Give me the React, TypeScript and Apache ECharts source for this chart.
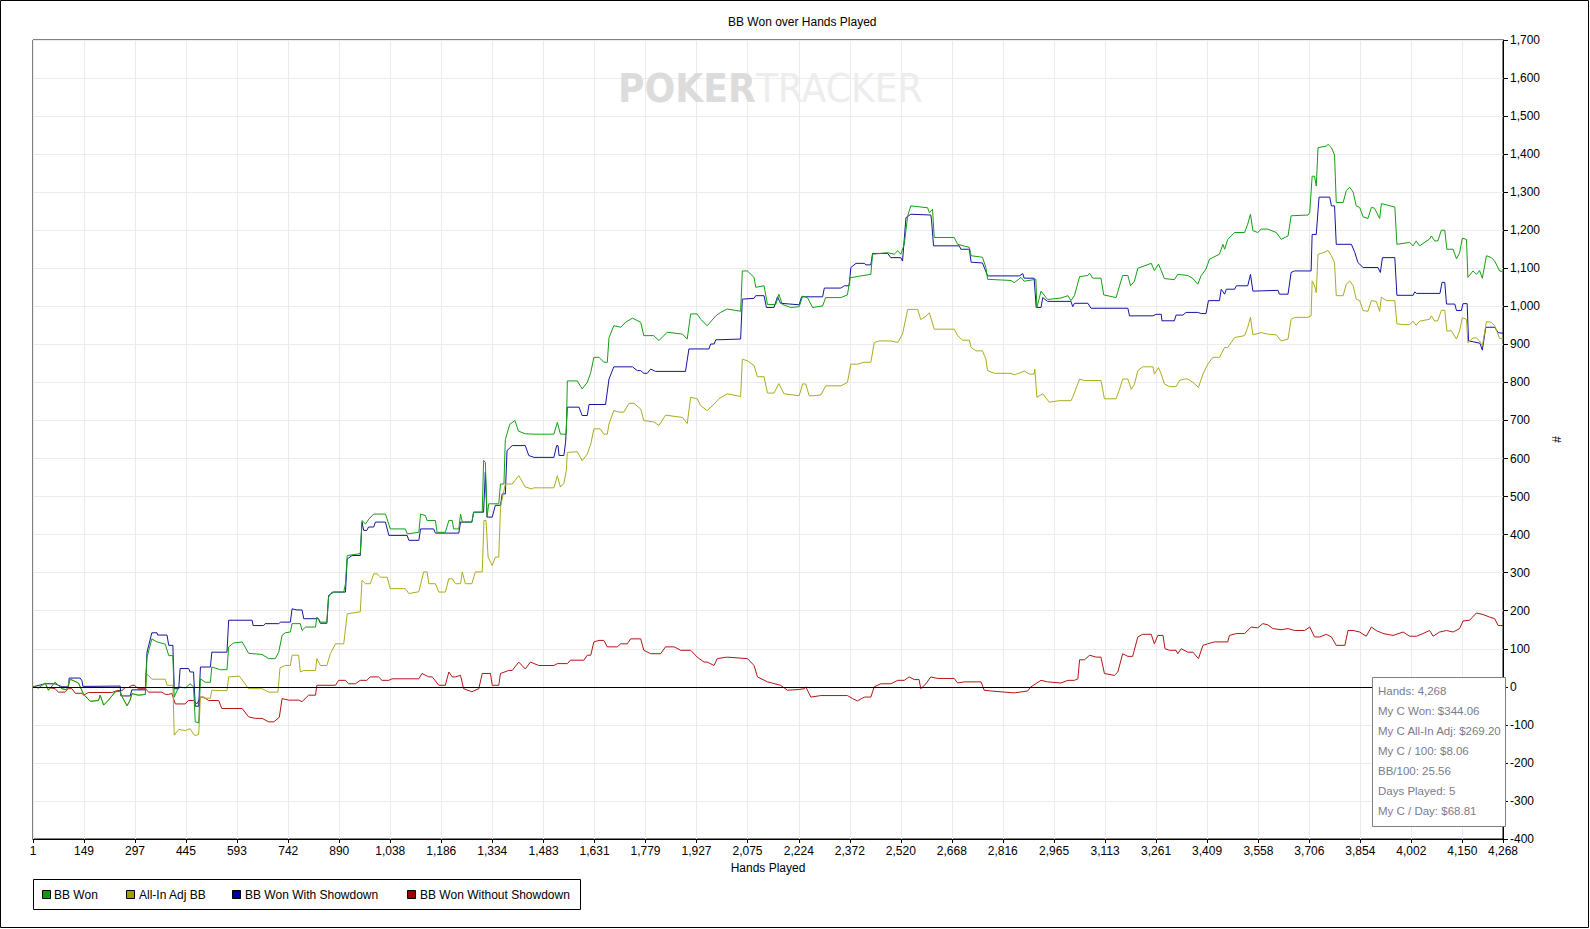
import React, { useEffect, useRef } from 'react';
import * as echarts from 'echarts';

const FONT = '"Liberation Sans", Arial, sans-serif';

const xTickValues = [1, 149, 297, 445, 593, 742, 890, 1038, 1186, 1334, 1483, 1631, 1779, 1927, 2075, 2224, 2372, 2520, 2668, 2816, 2965, 3113, 3261, 3409, 3558, 3706, 3854, 4002, 4150, 4268];

const seriesNames = ['BB Won', 'All-In Adj BB', 'BB Won With Showdown', 'BB Won Without Showdown'];
const lineColors = ['#12a012', '#acac1e', '#1414a4', '#b41414'];
const legendColors = ['#00a000', '#a0a000', '#0000a0', '#a00000'];

const statLines = ['Hands: 4,268', 'My C Won: $344.06', 'My C All-In Adj: $269.20', 'My C / 100: $8.06', 'BB/100: 25.56', 'Days Played: 5', 'My C / Day: $68.81'];

const bbWon: [number, number][] = [[1,0],[17,-3],[36,10],[46,-9],[65,12],[85,-5],[99,-8],[109,20],[133,10],[148,-20],[167,-38],[191,-36],[196,-22],[206,-48],[220,-35],[240,-13],[254,-12],[259,-25],[274,-50],[283,-35],[288,-18],[307,-22],[327,-20],[332,78],[346,126],[361,118],[385,112],[395,82],[407,82],[411,-27],[424,0],[443,-3],[457,8],[467,0],[472,-92],[482,-95],[487,21],[501,12],[516,12],[520,52],[545,45],[564,45],[569,105],[583,115],[608,118],[627,88],[666,85],[685,74],[704,74],[714,90],[724,135],[733,142],[748,144],[753,166],[777,166],[782,148],[792,157],[821,157],[825,183],[835,170],[854,170],[859,236],[869,249],[903,249],[908,271],[913,345],[951,350],[956,437],[966,428],[976,441],[990,454],[1024,454],[1029,441],[1038,415],[1082,415],[1087,402],[1121,406],[1126,454],[1140,450],[1145,437],[1169,437],[1174,406],[1198,406],[1208,437],[1218,437],[1222,415],[1237,415],[1242,454],[1247,433],[1275,433],[1280,459],[1305,459],[1309,595],[1314,590],[1319,446],[1324,481],[1353,481],[1358,533],[1368,533],[1372,650],[1385,690],[1400,700],[1410,672],[1430,665],[1455,664],[1513,664],[1523,695],[1532,664],[1549,664],[1552,804],[1581,804],[1595,783],[1610,800],[1620,826],[1629,866],[1644,866],[1658,853],[1668,853],[1673,918],[1687,949],[1707,945],[1721,958],[1741,969],[1765,958],[1774,923],[1803,923],[1818,910],[1842,932],[1886,927],[1900,914],[1910,980],[1929,980],[1939,966],[1958,949],[1983,975],[1997,984],[2016,993],[2055,987],[2060,1093],[2075,1093],[2094,1076],[2099,1050],[2123,1054],[2133,1005],[2157,1005],[2166,1032],[2176,1005],[2200,997],[2225,999],[2235,1027],[2249,1023],[2264,997],[2293,1001],[2302,1023],[2346,1023],[2365,1030],[2373,1075],[2404,1080],[2433,1084],[2438,1137],[2482,1141],[2501,1137],[2511,1146],[2520,1137],[2530,1163],[2540,1238],[2549,1264],[2598,1259],[2603,1246],[2612,1255],[2617,1181],[2675,1181],[2685,1163],[2719,1155],[2724,1133],[2757,1129],[2767,1102],[2772,1071],[2840,1068],[2849,1062],[2869,1076],[2878,1066],[2912,1071],[2915,997],[2927,1040],[2946,1018],[2985,1022],[3005,1028],[3014,1015],[3024,1028],[3039,1078],[3063,1081],[3068,1087],[3077,1074],[3101,1074],[3109,1030],[3145,1023],[3155,1054],[3164,1081],[3179,1081],[3187,1054],[3198,1066],[3208,1100],[3247,1113],[3256,1094],[3268,1111],[3276,1094],[3285,1073],[3314,1070],[3324,1084],[3353,1081],[3368,1073],[3382,1058],[3392,1081],[3406,1098],[3416,1124],[3445,1137],[3455,1163],[3460,1150],[3469,1176],[3489,1194],[3518,1194],[3527,1216],[3535,1242],[3542,1199],[3556,1194],[3566,1203],[3585,1203],[3610,1194],[3624,1176],[3644,1185],[3653,1238],[3702,1240],[3707,1246],[3714,1342],[3721,1342],[3726,1316],[3731,1417],[3755,1421],[3760,1426],[3770,1417],[3779,1398],[3784,1273],[3804,1273],[3813,1304],[3823,1313],[3833,1300],[3842,1264],[3852,1260],[3862,1235],[3876,1231],[3886,1260],[3895,1258],[3910,1231],[3915,1270],[3954,1261],[3960,1163],[3997,1168],[4007,1159],[4016,1172],[4026,1159],[4055,1177],[4060,1185],[4070,1172],[4079,1172],[4089,1200],[4099,1200],[4105,1150],[4123,1150],[4133,1125],[4142,1140],[4150,1179],[4162,1176],[4166,1076],[4181,1093],[4191,1084],[4200,1094],[4208,1074],[4220,1133],[4234,1128],[4244,1119],[4258,1093],[4268,1091]];

const allInAdjBB: [number, number][] = [[1,0],[17,-3],[36,10],[46,-9],[65,12],[85,-5],[99,-8],[109,20],[133,10],[148,-20],[167,-38],[191,-36],[196,-22],[206,-48],[220,-35],[240,-13],[254,-12],[259,-25],[274,-50],[283,-35],[288,-18],[307,-22],[327,-20],[332,34],[346,20],[385,20],[390,4],[407,4],[411,-127],[424,-112],[443,-115],[457,-110],[467,-125],[472,-128],[482,-125],[487,-27],[500,-30],[516,-30],[520,-9],[545,-10],[564,-10],[569,26],[600,28],[627,-5],[666,-5],[685,-14],[712,-14],[718,50],[733,56],[748,56],[753,83],[772,83],[777,39],[787,43],[821,43],[825,74],[835,56],[854,56],[864,87],[879,113],[903,113],[913,192],[951,197],[956,280],[966,271],[980,271],[990,297],[1000,297],[1010,288],[1029,288],[1038,258],[1082,258],[1092,245],[1121,250],[1135,302],[1145,302],[1150,271],[1169,271],[1179,249],[1198,249],[1208,284],[1218,284],[1227,271],[1242,271],[1247,302],[1256,271],[1275,271],[1285,302],[1305,302],[1310,437],[1316,437],[1322,341],[1334,319],[1343,341],[1353,341],[1358,472],[1372,533],[1392,533],[1411,555],[1430,525],[1450,520],[1455,523],[1513,523],[1523,555],[1532,525],[1542,535],[1549,568],[1552,616],[1581,618],[1595,594],[1610,612],[1620,638],[1629,678],[1648,678],[1658,664],[1668,664],[1673,691],[1687,726],[1702,722],[1716,722],[1731,745],[1745,745],[1765,730],[1774,700],[1803,696],[1818,687],[1837,714],[1886,708],[1900,692],[1910,761],[1929,757],[1939,739],[1958,726],[1978,743],[1992,757],[2016,770],[2055,763],[2060,861],[2075,857],[2094,844],[2104,815],[2123,815],[2133,772],[2152,772],[2166,797],[2181,770],[2225,765],[2235,796],[2244,796],[2254,765],[2268,765],[2288,767],[2302,791],[2346,791],[2365,800],[2375,848],[2394,848],[2414,853],[2433,853],[2443,905],[2457,909],[2491,909],[2511,905],[2525,927],[2540,992],[2569,992],[2578,965],[2593,974],[2603,983],[2617,940],[2675,940],[2685,923],[2699,911],[2719,911],[2724,892],[2738,883],[2757,883],[2767,861],[2772,831],[2792,824],[2840,824],[2849,820],[2869,826],[2878,830],[2893,822],[2907,822],[2909,835],[2915,761],[2932,770],[2951,748],[2980,752],[3014,752],[3019,761],[3039,809],[3053,805],[3101,805],[3111,757],[3145,757],[3155,782],[3164,809],[3179,809],[3189,782],[3198,795],[3208,831],[3222,841],[3252,841],[3256,822],[3268,839],[3276,822],[3285,796],[3300,789],[3319,789],[3329,805],[3343,809],[3353,809],[3368,800],[3384,787],[3397,822],[3411,848],[3426,866],[3445,866],[3460,892],[3469,892],[3489,918],[3518,923],[3527,945],[3535,971],[3542,925],[3566,931],[3585,927],[3610,925],[3624,909],[3644,914],[3653,966],[3663,971],[3702,971],[3711,975],[3714,1067],[3721,1054],[3726,1036],[3731,1137],[3746,1141],[3760,1147],[3770,1133],[3779,1115],[3784,1028],[3804,1028],[3813,1058],[3823,1067],[3833,1054],[3842,1019],[3852,1015],[3862,989],[3876,987],[3886,1015],[3900,1013],[3910,987],[3915,1024],[3930,1015],[3954,1015],[3960,954],[3978,952],[3997,952],[4007,961],[4016,950],[4026,961],[4055,966],[4060,975],[4070,961],[4079,963],[4089,989],[4099,990],[4105,935],[4118,936],[4133,914],[4142,935],[4150,970],[4162,966],[4166,904],[4181,917],[4191,917],[4200,909],[4208,896],[4220,960],[4234,958],[4244,949],[4258,916],[4268,914]];

const withShowdown: [number, number][] = [[1,0],[36,8],[65,8],[85,0],[104,0],[106,23],[138,23],[143,16],[146,1],[254,2],[256,-24],[283,-24],[288,-8],[327,-8],[332,91],[346,142],[361,142],[363,136],[390,136],[395,109],[407,109],[411,-5],[424,-5],[428,48],[453,48],[457,39],[467,39],[472,-51],[482,-51],[487,52],[516,52],[520,91],[564,91],[569,175],[637,175],[640,161],[670,161],[675,166],[714,166],[720,170],[748,170],[753,205],[767,202],[782,202],[787,179],[830,179],[835,167],[854,167],[859,240],[874,249],[908,249],[913,336],[927,345],[951,345],[956,433],[961,411],[970,411],[975,420],[990,420],[995,433],[1024,433],[1034,398],[1087,398],[1092,385],[1121,385],[1126,415],[1164,415],[1169,404],[1237,404],[1242,433],[1275,433],[1280,459],[1309,459],[1314,564],[1319,446],[1334,446],[1343,477],[1358,477],[1363,507],[1372,507],[1377,621],[1392,634],[1430,634],[1440,608],[1455,603],[1513,603],[1521,634],[1525,634],[1528,608],[1542,608],[1547,643],[1552,735],[1586,735],[1595,713],[1610,713],[1615,742],[1663,742],[1673,809],[1687,841],[1741,841],[1755,831],[1765,831],[1774,824],[1784,824],[1794,835],[1808,829],[1895,829],[1905,888],[1963,888],[1968,901],[1978,901],[1983,912],[2055,914],[2060,1019],[2094,1021],[2099,1028],[2123,1028],[2130,997],[2152,997],[2162,1025],[2171,1008],[2225,1004],[2232,1025],[2293,1025],[2298,1048],[2346,1048],[2356,1054],[2370,1054],[2375,1102],[2390,1113],[2414,1113],[2419,1109],[2433,1109],[2438,1139],[2482,1139],[2491,1128],[2520,1128],[2525,1119],[2535,1233],[2549,1242],[2607,1240],[2609,1229],[2615,1159],[2690,1159],[2694,1150],[2719,1150],[2724,1116],[2757,1114],[2772,1080],[2864,1080],[2874,1086],[2878,1074],[2907,1074],[2913,997],[2927,997],[2932,1023],[2946,1013],[3014,1013],[3019,999],[3024,1008],[3063,1008],[3072,995],[3179,995],[3184,975],[3252,975],[3261,979],[3276,979],[3278,962],[3314,962],[3319,977],[3339,977],[3348,984],[3382,984],[3392,981],[3406,981],[3413,1015],[3445,1015],[3450,1045],[3460,1032],[3465,1045],[3489,1045],[3494,1054],[3527,1054],[3535,1084],[3542,1040],[3615,1042],[3619,1032],[3644,1032],[3653,1089],[3663,1093],[3711,1093],[3714,1189],[3726,1189],[3734,1287],[3765,1287],[3770,1264],[3779,1264],[3784,1163],[3828,1163],[3838,1141],[3847,1115],[3862,1102],[3905,1102],[3912,1089],[3918,1128],[3954,1128],[3960,1029],[4007,1029],[4012,1038],[4017,1034],[4085,1034],[4091,1063],[4099,1063],[4104,1006],[4128,1006],[4133,989],[4147,989],[4152,1007],[4164,1007],[4168,909],[4181,907],[4201,903],[4208,885],[4218,945],[4244,945],[4254,931],[4268,929]];

const withoutShowdown: [number, number][] = [[1,0],[17,-2],[46,-2],[65,-5],[75,-14],[94,-14],[104,-5],[114,-5],[124,-17],[143,-17],[148,-22],[162,-15],[230,-15],[245,-10],[259,-10],[269,-2],[278,-2],[288,4],[295,4],[307,-5],[327,-5],[337,-14],[375,-14],[385,-20],[395,-20],[404,-17],[414,-45],[443,-45],[452,-36],[467,-36],[477,-45],[487,-27],[496,-27],[511,-36],[540,-36],[549,-57],[608,-57],[627,-79],[646,-83],[666,-83],[685,-92],[700,-92],[716,-80],[724,-31],[743,-35],[772,-35],[782,-39],[801,-22],[821,-22],[825,4],[879,4],[888,17],[908,17],[917,8],[937,8],[951,17],[970,17],[980,26],[1004,26],[1014,17],[1034,17],[1043,21],[1121,21],[1130,35],[1150,26],[1160,26],[1179,4],[1198,4],[1208,39],[1218,26],[1227,26],[1242,30],[1251,-5],[1275,-13],[1295,-5],[1305,35],[1329,35],[1334,4],[1353,4],[1358,35],[1382,43],[1392,43],[1411,65],[1430,47],[1445,65],[1469,56],[1513,56],[1523,61],[1552,61],[1561,70],[1600,70],[1610,83],[1620,83],[1629,118],[1644,122],[1658,122],[1668,105],[1697,105],[1707,113],[1726,113],[1736,126],[1765,126],[1774,96],[1794,87],[1823,87],[1837,105],[1862,105],[1881,96],[1910,96],[1929,78],[1949,65],[1958,65],[1978,56],[1987,74],[2016,78],[2075,74],[2094,56],[2104,26],[2133,13],[2171,4],[2191,-9],[2225,-7],[2240,-5],[2244,0],[2259,-27],[2288,-23],[2365,-23],[2380,-31],[2394,-37],[2414,-27],[2433,-27],[2443,0],[2462,8],[2491,8],[2511,17],[2530,17],[2544,26],[2559,19],[2573,19],[2578,-5],[2593,8],[2607,26],[2627,22],[2675,22],[2685,10],[2704,13],[2753,13],[2762,-9],[2782,-11],[2849,-16],[2888,-11],[2898,0],[2927,17],[2946,13],[2985,10],[3005,17],[3024,17],[3034,21],[3039,71],[3053,71],[3068,83],[3087,78],[3101,78],[3111,35],[3140,30],[3150,39],[3164,87],[3179,80],[3193,80],[3208,131],[3222,138],[3247,138],[3256,113],[3266,135],[3281,135],[3287,100],[3300,96],[3319,96],[3324,87],[3334,100],[3353,91],[3368,91],[3384,74],[3397,109],[3411,113],[3430,118],[3469,118],[3474,135],[3494,140],[3518,140],[3537,157],[3556,155],[3571,166],[3585,163],[3600,153],[3624,150],[3644,153],[3663,148],[3692,148],[3707,157],[3721,131],[3736,131],[3755,138],[3770,131],[3784,109],[3809,109],[3818,148],[3833,148],[3852,144],[3871,133],[3886,157],[3900,148],[3920,140],[3949,135],[3978,144],[3997,133],[4017,133],[4036,140],[4055,148],[4065,133],[4084,144],[4104,148],[4123,144],[4142,153],[4152,173],[4171,175],[4191,194],[4210,190],[4230,183],[4244,179],[4254,161],[4268,161]];

const fmt = (v: number) => echarts.format.addCommas(Math.round(v));

function buildOption() {
  const textBase = { fontFamily: FONT, fontSize: 12, color: '#000' };
  const lineSeries = (name: string, data: [number, number][], color: string, extra: any = {}) => ({
    type: 'line',
    name,
    data,
    showSymbol: false,
    symbol: 'none',
    silent: true,
    lineStyle: { color, width: 1 },
    itemStyle: { color },
    emphasis: { disabled: true },
    ...extra,
  });

  const legendX = [42.5, 126.5, 232.5, 407.5];
  const legendTextX = [54, 139, 245, 420];
  const legendGraphics: any[] = [
    { type: 'rect', shape: { x: 33.5, y: 879.5, width: 547, height: 30 }, style: { fill: '#fff', stroke: '#000', lineWidth: 1 }, z: 50 },
  ];
  seriesNames.forEach((n, i) => {
    legendGraphics.push({ type: 'rect', shape: { x: legendX[i], y: 890.5, width: 8, height: 8 }, style: { fill: legendColors[i], stroke: '#000', lineWidth: 1 }, z: 51 });
    legendGraphics.push({ type: 'text', x: legendTextX[i], y: 895, style: { text: n, fontFamily: FONT, fontSize: 12, fill: '#000', verticalAlign: 'middle', align: 'left' }, z: 51 });
  });

  const statGraphics: any[] = [
    { type: 'rect', shape: { x: 1372.5, y: 677.5, width: 133, height: 149 }, style: { fill: '#fff', stroke: '#808080', lineWidth: 1 }, z: 100 },
  ];
  statLines.forEach((t, i) => {
    statGraphics.push({ type: 'text', x: 1378, y: 690.7 + i * 20, style: { text: t, fontFamily: FONT, fontSize: 11.5, fill: '#7b7b8e', verticalAlign: 'middle', align: 'left' }, z: 101 });
  });

  return {
    animation: false,
    backgroundColor: '#fff',
    title: {
      text: 'BB Won over Hands Played',
      left: 728,
      top: 16,
      padding: 0,
      textStyle: { ...textBase, fontWeight: 'normal' },
    },
    grid: {
      left: 33,
      right: 87,
      top: 40,
      bottom: 90,
      show: true,
      borderColor: '#000',
      borderWidth: 1,
      backgroundColor: 'transparent',
      containLabel: false,
      outerBoundsMode: 'none',
    },
    tooltip: { show: false },
    xAxis: {
      type: 'value',
      min: 1,
      max: 4268,
      name: 'Hands Played',
      nameLocation: 'middle',
      nameGap: 23,
      nameTextStyle: textBase,
      axisLine: { show: true, onZero: false, lineStyle: { color: '#000', width: 1 } },
      axisTick: { show: true, length: 4, lineStyle: { color: '#000' }, customValues: xTickValues },
      axisLabel: { customValues: xTickValues, margin: 6, formatter: (v: number) => fmt(v), ...textBase, showMinLabel: true, showMaxLabel: true },
      splitLine: { show: true, lineStyle: { color: '#ebebeb', width: 1 } },
    },
    yAxis: {
      type: 'value',
      position: 'right',
      min: -400,
      max: 1700,
      interval: 100,
      name: '#',
      nameLocation: 'middle',
      nameGap: 48,
      nameTextStyle: textBase,
      axisLine: { show: true, onZero: false, lineStyle: { color: '#000', width: 1 } },
      axisTick: { show: true, length: 5, lineStyle: { color: '#000' } },
      axisLabel: { margin: 7, formatter: (v: number) => fmt(v), ...textBase },
      splitLine: { show: true, lineStyle: { color: '#ebebeb', width: 1 } },
    },
    graphic: [
      { type: 'rect', shape: { x: 0.5, y: 0.5, width: 1588, height: 927 }, style: { fill: 'none', stroke: '#000', lineWidth: 1 }, z: 200, silent: true },
      {
        type: 'text',
        x: 618,
        y: 88,
        scaleX: 1.15,
        scaleY: 1.1,
        z: 1,
        silent: true,
        style: {
          text: '{a|POKER}{b|TRACKER}',
          verticalAlign: 'middle',
          align: 'left',
          rich: {
            a: { fontFamily: '"DejaVu Sans Condensed", "DejaVu Sans", sans-serif', fontWeight: 'bold', fontSize: 35, fill: '#dcdcdc', color: '#dcdcdc' },
            b: { fontFamily: '"DejaVu Sans Condensed", "DejaVu Sans", sans-serif', fontWeight: 'normal', fontSize: 35, fill: '#ededed', color: '#ededed' },
          },
        },
      },
      ...legendGraphics,
      ...statGraphics,
    ],
    series: [
      lineSeries(seriesNames[3], withoutShowdown, lineColors[3], {
        markLine: {
          silent: true,
          symbol: ['none', 'none'],
          label: { show: false },
          lineStyle: { color: '#000', width: 1, type: 'solid' },
          emphasis: { disabled: true },
          data: [{ yAxis: 0 }],
        },
      }),
      lineSeries(seriesNames[2], withShowdown, lineColors[2]),
      lineSeries(seriesNames[1], allInAdjBB, lineColors[1]),
      lineSeries(seriesNames[0], bbWon, lineColors[0]),
    ],
  };
}

export default function App() {
  const ref = useRef<HTMLDivElement>(null);
  useEffect(() => {
    document.body.style.margin = '0';
    const chart = echarts.init(ref.current as HTMLDivElement, null, { renderer: 'svg' });
    chart.setOption(buildOption() as any);
    return () => {
      chart.dispose();
    };
  }, []);
  return <div ref={ref} style={{ width: 1590, height: 929 }} />;
}
